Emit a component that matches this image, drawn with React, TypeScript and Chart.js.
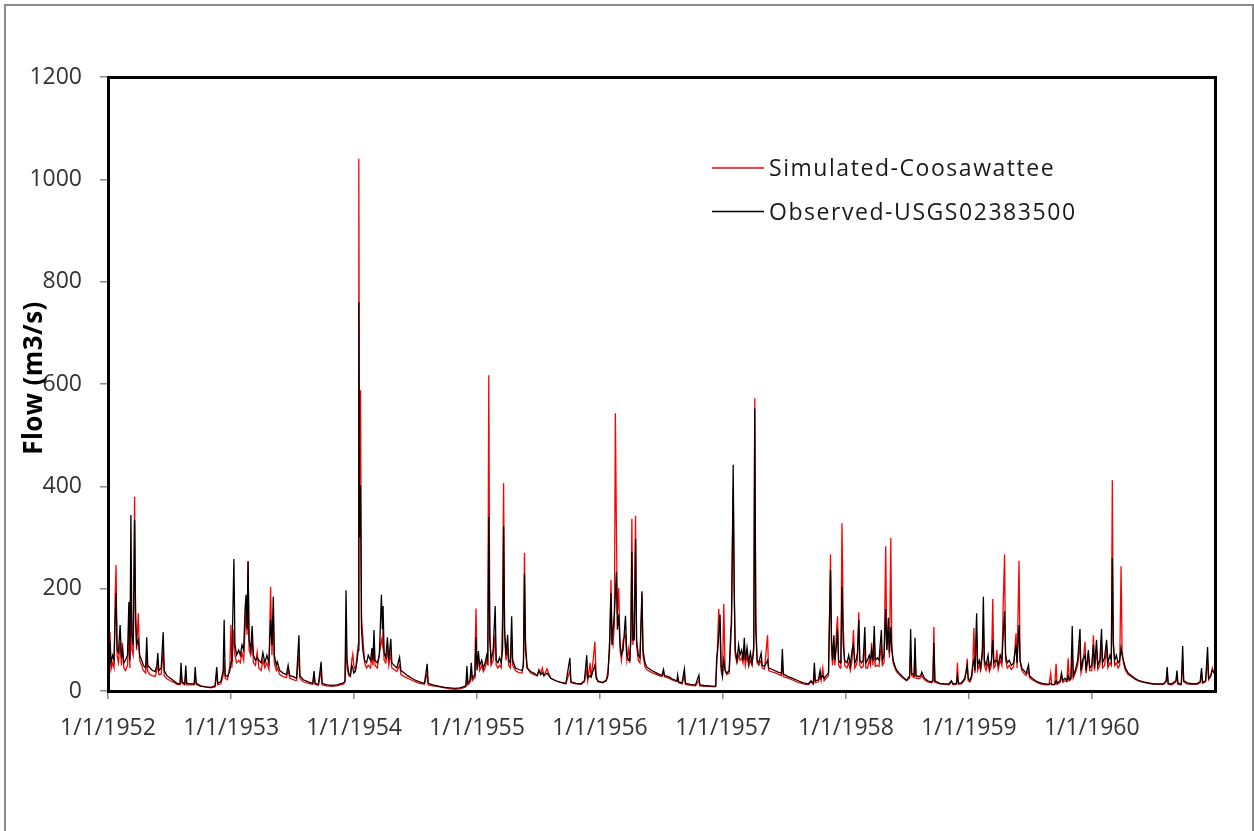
import React, { useEffect, useRef } from "react";
import { Chart, registerables } from "chart.js";

Chart.register(...registerables);

// ---- Axis definitions ----
const yearStartDays = [0, 366, 731, 1096, 1461, 1827, 2192, 2557, 2922];
const yearLabels = ["1/1/1952", "1/1/1953", "1/1/1954", "1/1/1955", "1/1/1956", "1/1/1957", "1/1/1958", "1/1/1959", "1/1/1960"];
const yTickValues = [0, 200, 400, 600, 800, 1000, 1200];
const lastDay = 3288; // 1/1/1961

const seriesLabels = ["Simulated-Coosawattee", "Observed-USGS02383500"];
const yTitle = "Flow (m3/s)";

// ---- Data (day index since 1/1/1952, flow in m3/s) ----
const days1952 = [0,3,6,9,14,18,21,24,27,31,36,40,43,47,52,58,62,65,68,71,75,79,82,85,90,94,100,105,112,115,118,125,132,140,145,148,151,158,164,167,175,185,195,205,214,217,220,228,231,234,245,256,259,262,275,290,305,318,323,326,335,342,345,348,355,362,365];
const obs1952 = [50,60,96,55,70,60,135,191,80,75,129,65,80,55,60,70,174,60,344,110,90,334,150,90,100,70,60,50,45,105,50,45,40,38,50,74,40,45,115,40,30,25,20,15,14,55,18,14,50,15,14,14,47,15,10,8,7,10,47,15,18,40,139,30,28,40,55];
const sim1952 = [40,50,115,42,55,45,178,246,70,55,95,50,94,45,40,50,110,45,250,80,70,379,130,80,152,60,50,40,35,80,38,32,30,28,40,55,32,33,80,30,24,20,17,13,12,40,15,12,35,12,12,12,35,13,9,8,6,8,35,12,14,30,60,25,22,50,129];

const days1953 = [368,374,377,382,388,393,398,403,407,410,413,416,419,424,428,432,438,443,448,455,460,466,472,478,483,487,491,494,500,503,510,520,530,535,540,550,560,567,570,580,595,608,612,615,625,633,636,650,665,680,690,700,704,707,710,715,720,724,727,730];
const obs1953 = [60,258,90,70,80,70,90,80,158,188,120,254,100,80,127,70,60,65,60,55,75,55,70,55,139,90,184,70,50,57,40,35,32,50,30,28,25,109,30,22,18,15,39,15,13,57,15,12,11,12,14,16,20,197,60,35,30,50,45,35];
const sim1953 = [45,120,70,55,60,55,75,60,120,160,110,252,80,70,100,55,50,76,45,40,60,45,55,42,203,70,150,55,40,45,32,28,26,40,25,22,20,70,24,18,15,13,30,13,11,40,12,10,9,10,12,14,18,100,45,30,28,60,72,50];

const days1954 = [735,740,743,745,747,750,753,757,762,768,773,780,784,787,790,793,800,806,812,815,817,820,825,830,834,840,843,850,858,866,870,880,890,900,910,925,940,948,951,965,985,1000,1015,1030,1045,1055,1063,1066,1069,1075,1079,1082,1088,1090,1093];
const obs1954 = [40,60,80,760,300,402,120,80,60,55,70,60,84,60,119,60,55,70,188,120,166,75,65,105,60,102,55,50,45,66,40,35,30,26,22,18,15,53,15,12,9,7,6,5,6,8,10,49,15,20,55,25,30,40,105];
const sim1954 = [40,70,90,1040,400,588,140,105,55,45,50,45,70,50,90,50,45,72,100,90,120,60,55,80,50,75,45,42,38,50,32,28,25,22,19,15,13,35,12,10,8,6,4,3,4,6,8,30,12,16,40,20,25,60,161];

const days1955 = [1096,1100,1104,1110,1115,1120,1125,1128,1131,1134,1138,1144,1150,1153,1158,1163,1168,1172,1175,1178,1182,1187,1190,1195,1199,1202,1210,1220,1230,1234,1237,1240,1245,1255,1265,1275,1280,1285,1290,1295,1304,1315,1330,1345,1360,1372,1375,1390,1405,1415,1422,1425,1432,1435,1441,1446,1450,1455];
const obs1955 = [40,78,50,60,45,55,70,60,340,100,60,80,166,60,55,65,55,80,322,120,70,110,60,55,146,60,45,42,40,50,229,80,45,38,35,30,40,32,36,30,35,25,20,17,15,65,18,15,14,20,70,25,30,28,40,50,25,20];
const sim1955 = [55,60,40,50,38,45,60,50,617,120,50,60,110,50,45,50,45,150,406,110,60,85,50,45,100,50,40,36,35,60,270,100,45,35,32,30,42,35,45,30,43,25,20,17,14,40,16,14,13,18,40,20,55,25,60,96,30,18];

const days1956 = [1461,1470,1480,1485,1490,1494,1497,1500,1504,1507,1510,1513,1517,1521,1525,1530,1537,1541,1546,1550,1553,1556,1559,1563,1567,1570,1575,1580,1586,1589,1595,1600,1615,1630,1645,1650,1653,1665,1680,1690,1692,1695,1705,1712,1715,1730,1745,1755,1758,1770,1785,1800,1805,1808,1811,1814,1818,1821,1825];
const obs1956 = [18,17,20,30,100,191,90,120,150,190,233,120,150,90,70,80,147,70,60,60,100,272,100,100,297,100,70,65,195,80,55,47,40,35,30,42,30,28,22,20,31,18,16,43,15,13,12,31,12,11,10,9,10,66,80,110,149,50,30];
const sim1956 = [18,16,22,40,80,217,100,90,130,543,321,150,201,80,60,100,110,60,82,55,120,336,90,120,342,90,60,55,190,70,47,42,36,32,28,35,28,25,20,18,25,16,14,30,13,11,10,20,10,9,9,8,9,50,100,160,110,40,28];

const days1957 = [1829,1833,1838,1845,1850,1852,1857,1860,1863,1868,1873,1877,1882,1886,1890,1893,1898,1903,1908,1913,1918,1921,1924,1928,1933,1940,1943,1950,1959,1962,1970,1980,1990,2000,2003,2006,2020,2035,2050,2065,2080,2088,2095,2098,2101,2110,2115,2118,2123,2127,2133,2140,2146,2149,2152,2156,2159,2164,2167,2170,2175,2177,2180,2184,2188];
const obs1957 = [60,40,35,40,120,130,442,200,80,60,90,70,80,60,104,60,85,55,75,55,80,552,120,60,55,74,50,48,60,45,43,40,37,35,82,33,28,24,20,16,14,20,15,55,20,22,40,25,30,25,30,35,236,100,60,109,60,90,120,60,55,70,203,90,60];
const sim1957 = [170,40,32,35,100,158,400,190,70,55,70,60,65,55,80,50,70,48,60,50,90,572,150,55,50,60,45,43,109,40,38,36,33,30,55,28,25,21,17,14,12,18,13,35,16,18,30,20,45,20,25,30,267,80,50,90,50,120,146,50,45,60,328,123,50];

const days1958 = [2195,2200,2205,2210,2214,2218,2222,2226,2230,2233,2238,2243,2248,2251,2256,2261,2265,2268,2272,2276,2279,2285,2290,2297,2300,2305,2310,2313,2318,2321,2325,2328,2332,2337,2342,2350,2360,2372,2381,2384,2387,2394,2397,2400,2408,2414,2417,2425,2435,2445,2450,2453,2456,2470,2485,2498,2505,2510,2520,2523,2526,2535,2545,2549,2552,2555];
const obs1958 = [55,70,50,80,90,55,60,75,139,60,55,60,125,55,60,70,60,80,60,127,60,65,60,119,60,70,160,80,143,75,125,80,60,50,41,35,28,21,30,121,35,30,104,30,28,30,37,25,20,18,20,94,20,15,14,14,20,14,15,30,15,16,25,40,50,25];
const sim1958 = [45,55,40,60,119,45,50,60,154,50,45,48,90,45,45,60,50,94,50,95,48,50,48,90,50,55,283,80,110,65,299,90,55,45,38,32,26,20,25,80,30,26,70,25,24,26,30,22,18,16,18,125,17,14,13,12,18,12,13,55,13,14,22,38,63,20];

const days1959 = [2560,2565,2568,2572,2575,2580,2583,2588,2592,2597,2600,2603,2608,2614,2618,2624,2628,2631,2636,2640,2644,2650,2655,2659,2663,2666,2671,2677,2683,2690,2697,2700,2706,2709,2714,2720,2727,2734,2737,2745,2755,2765,2775,2785,2795,2800,2803,2812,2816,2819,2828,2832,2836,2842,2848,2852,2855,2860,2864,2867,2873,2880,2887,2890,2895,2902,2905,2912,2916];
const obs1959 = [20,30,50,60,40,152,50,60,45,80,184,60,50,70,45,60,100,55,60,60,50,70,60,110,156,70,55,60,50,55,90,55,129,60,45,40,35,51,30,25,20,17,15,14,13,15,13,13,20,15,20,35,20,25,20,30,22,25,127,30,40,60,121,40,60,70,40,80,45];
const sim1959 = [18,25,40,123,35,110,40,50,40,70,130,50,40,55,38,50,180,45,50,80,42,60,50,170,267,60,45,50,42,48,113,45,254,60,40,35,30,40,26,22,18,15,13,12,12,35,12,12,53,13,17,28,17,20,18,64,20,22,80,25,35,50,90,35,50,96,35,70,40];

const days1960 = [2922,2927,2930,2936,2940,2946,2951,2954,2960,2966,2970,2976,2980,2983,2986,2990,2995,3000,3005,3009,3012,3016,3022,3030,3040,3050,3060,3075,3090,3105,3120,3135,3143,3146,3149,3160,3172,3175,3178,3188,3192,3195,3205,3215,3225,3235,3244,3248,3251,3260,3266,3269,3275,3280,3287];
const obs1960 = [50,90,45,100,50,60,121,55,65,100,55,70,60,260,90,60,70,55,60,84,70,60,45,35,30,25,21,18,16,14,14,14,20,47,15,14,20,40,15,14,88,20,16,15,14,15,18,45,17,20,86,25,30,40,35];
const sim1960 = [40,109,40,80,42,50,90,45,50,80,45,55,50,412,100,50,55,45,50,244,80,55,40,32,28,23,20,17,15,13,13,13,18,35,13,12,18,30,13,12,60,18,14,13,13,13,16,35,15,18,60,22,28,45,32];

const dayIndex = [...days1952, ...days1953, ...days1954, ...days1955, ...days1956, ...days1957, ...days1958, ...days1959, ...days1960];
const observedFlow = [...obs1952, ...obs1953, ...obs1954, ...obs1955, ...obs1956, ...obs1957, ...obs1958, ...obs1959, ...obs1960];
const simulatedFlow = [...sim1952, ...sim1953, ...sim1954, ...sim1955, ...sim1956, ...sim1957, ...sim1958, ...sim1959, ...sim1960];

const FONT = "'Open Sans', 'DejaVu Sans', sans-serif";

function toPoints(values: number[]) {
  const pts: { x: number; y: number }[] = [];
  for (let i = 0; i < dayIndex.length; i++) {
    if (values[i] !== undefined) pts.push({ x: dayIndex[i], y: values[i] });
  }
  return pts;
}

const framePlugin = {
  id: "frame",
  afterDatasetsDraw(chart: any) {
    const { ctx, chartArea } = chart;
    ctx.save();
    ctx.strokeStyle = "#000";
    ctx.lineWidth = 3;
    ctx.strokeRect(chartArea.left + 0.5, chartArea.top + 0.5, chartArea.right - chartArea.left, chartArea.bottom - chartArea.top);
    ctx.restore();
  },
};

const textPlugin = {
  id: "customTexts",
  afterDraw(chart: any) {
    const { ctx } = chart;
    // y-axis title
    ctx.save();
    ctx.font = `bold 26px ${FONT}`;
    try { (ctx as any).letterSpacing = "0.4px"; } catch (e) {}
    ctx.fillStyle = "#000000";
    ctx.textAlign = "center";
    ctx.textBaseline = "alphabetic";
    ctx.translate(42, 378);
    ctx.rotate(-Math.PI / 2);
    ctx.fillText(yTitle, 0, 0);
    ctx.restore();

    // legend
    const items = [
      { text: chart.data.datasets[0].label, color: "#ff0000", y: 168 },
      { text: chart.data.datasets[1].label, color: "#000000", y: 211.5 },
    ];
    ctx.save();
    ctx.font = `23px ${FONT}`;
    try { (ctx as any).letterSpacing = "1.55px"; } catch (e) {}
    ctx.textBaseline = "middle";
    ctx.textAlign = "left";
    for (const it of items) {
      ctx.strokeStyle = it.color;
      ctx.lineWidth = 1.5;
      ctx.beginPath();
      ctx.moveTo(712, it.y);
      ctx.lineTo(764, it.y);
      ctx.stroke();
      ctx.fillStyle = "#1a1a1a";
      ctx.fillText(it.text, 769, it.y + 1.5);
    }
    ctx.restore();
  },
};

export default function App() {
  const canvasRef = useRef<HTMLCanvasElement | null>(null);

  useEffect(() => {
    if (!canvasRef.current) return;
    const chart = new Chart(canvasRef.current, {
      type: "line",
      data: {
        datasets: [
          {
            label: seriesLabels[0],
            data: toPoints(simulatedFlow),
            borderColor: "#ff0000",
            backgroundColor: "#ff0000",
            borderWidth: 1.3,
            pointRadius: 0,
            tension: 0,
            order: 1,
          },
          {
            label: seriesLabels[1],
            data: toPoints(observedFlow),
            borderColor: "#000000",
            backgroundColor: "#000000",
            borderWidth: 1.3,
            pointRadius: 0,
            tension: 0,
            order: 0,
          },
        ],
      },
      options: {
        animation: false,
        responsive: false,
        maintainAspectRatio: false,
        parsing: false,
        layout: { padding: { left: 0, top: 77, right: 39, bottom: 0 } },
        plugins: {
          legend: { display: false },
          tooltip: { enabled: false },
        },
        scales: {
          x: {
            type: "linear",
            min: 0,
            max: lastDay,
            afterBuildTicks: (s: any) => {
              s.ticks = yearStartDays.map((v) => ({ value: v }));
            },
            afterFit: (s: any) => {
              s.height = 140;
            },
            ticks: {
              autoSkip: false,
              maxRotation: 0,
              minRotation: 0,
              padding: 16,
              color: "#333333",
              font: { family: FONT, size: 23 },
              callback: (_v: any, i: number) => yearLabels[i],
            },
            grid: { drawOnChartArea: false, drawTicks: true, tickLength: 8, color: "#8c8c8c", lineWidth: 1.5 },
            border: { display: false },
          },
          y: {
            min: 0,
            max: 1200,
            afterBuildTicks: (s: any) => {
              s.ticks = yTickValues.map((v) => ({ value: v }));
            },
            afterFit: (s: any) => {
              s.width = 108;
            },
            ticks: {
              padding: 18,
              color: "#333333",
              font: { family: FONT, size: 23 },
              callback: (v: any) => String(v),
            },
            grid: { drawOnChartArea: false, drawTicks: true, tickLength: 8, color: "#8c8c8c", lineWidth: 1.5 },
            border: { display: false },
          },
        },
      },
      plugins: [framePlugin, textPlugin],
    } as any);
    return () => chart.destroy();
  }, []);

  return (
    <div style={{ position: "fixed", left: 0, top: 0, width: 1254, height: 831, overflow: "hidden", background: "#ffffff" }}>
      <div
        style={{
          position: "absolute",
          left: 4,
          top: 4,
          width: 1250,
          height: 900,
          border: "2px solid #8a8a8a",
          boxSizing: "border-box",
        }}
      />
      <canvas ref={canvasRef} width={1254} height={831} style={{ position: "absolute", left: 0, top: 0, width: 1254, height: 831 }} />
    </div>
  );
}
